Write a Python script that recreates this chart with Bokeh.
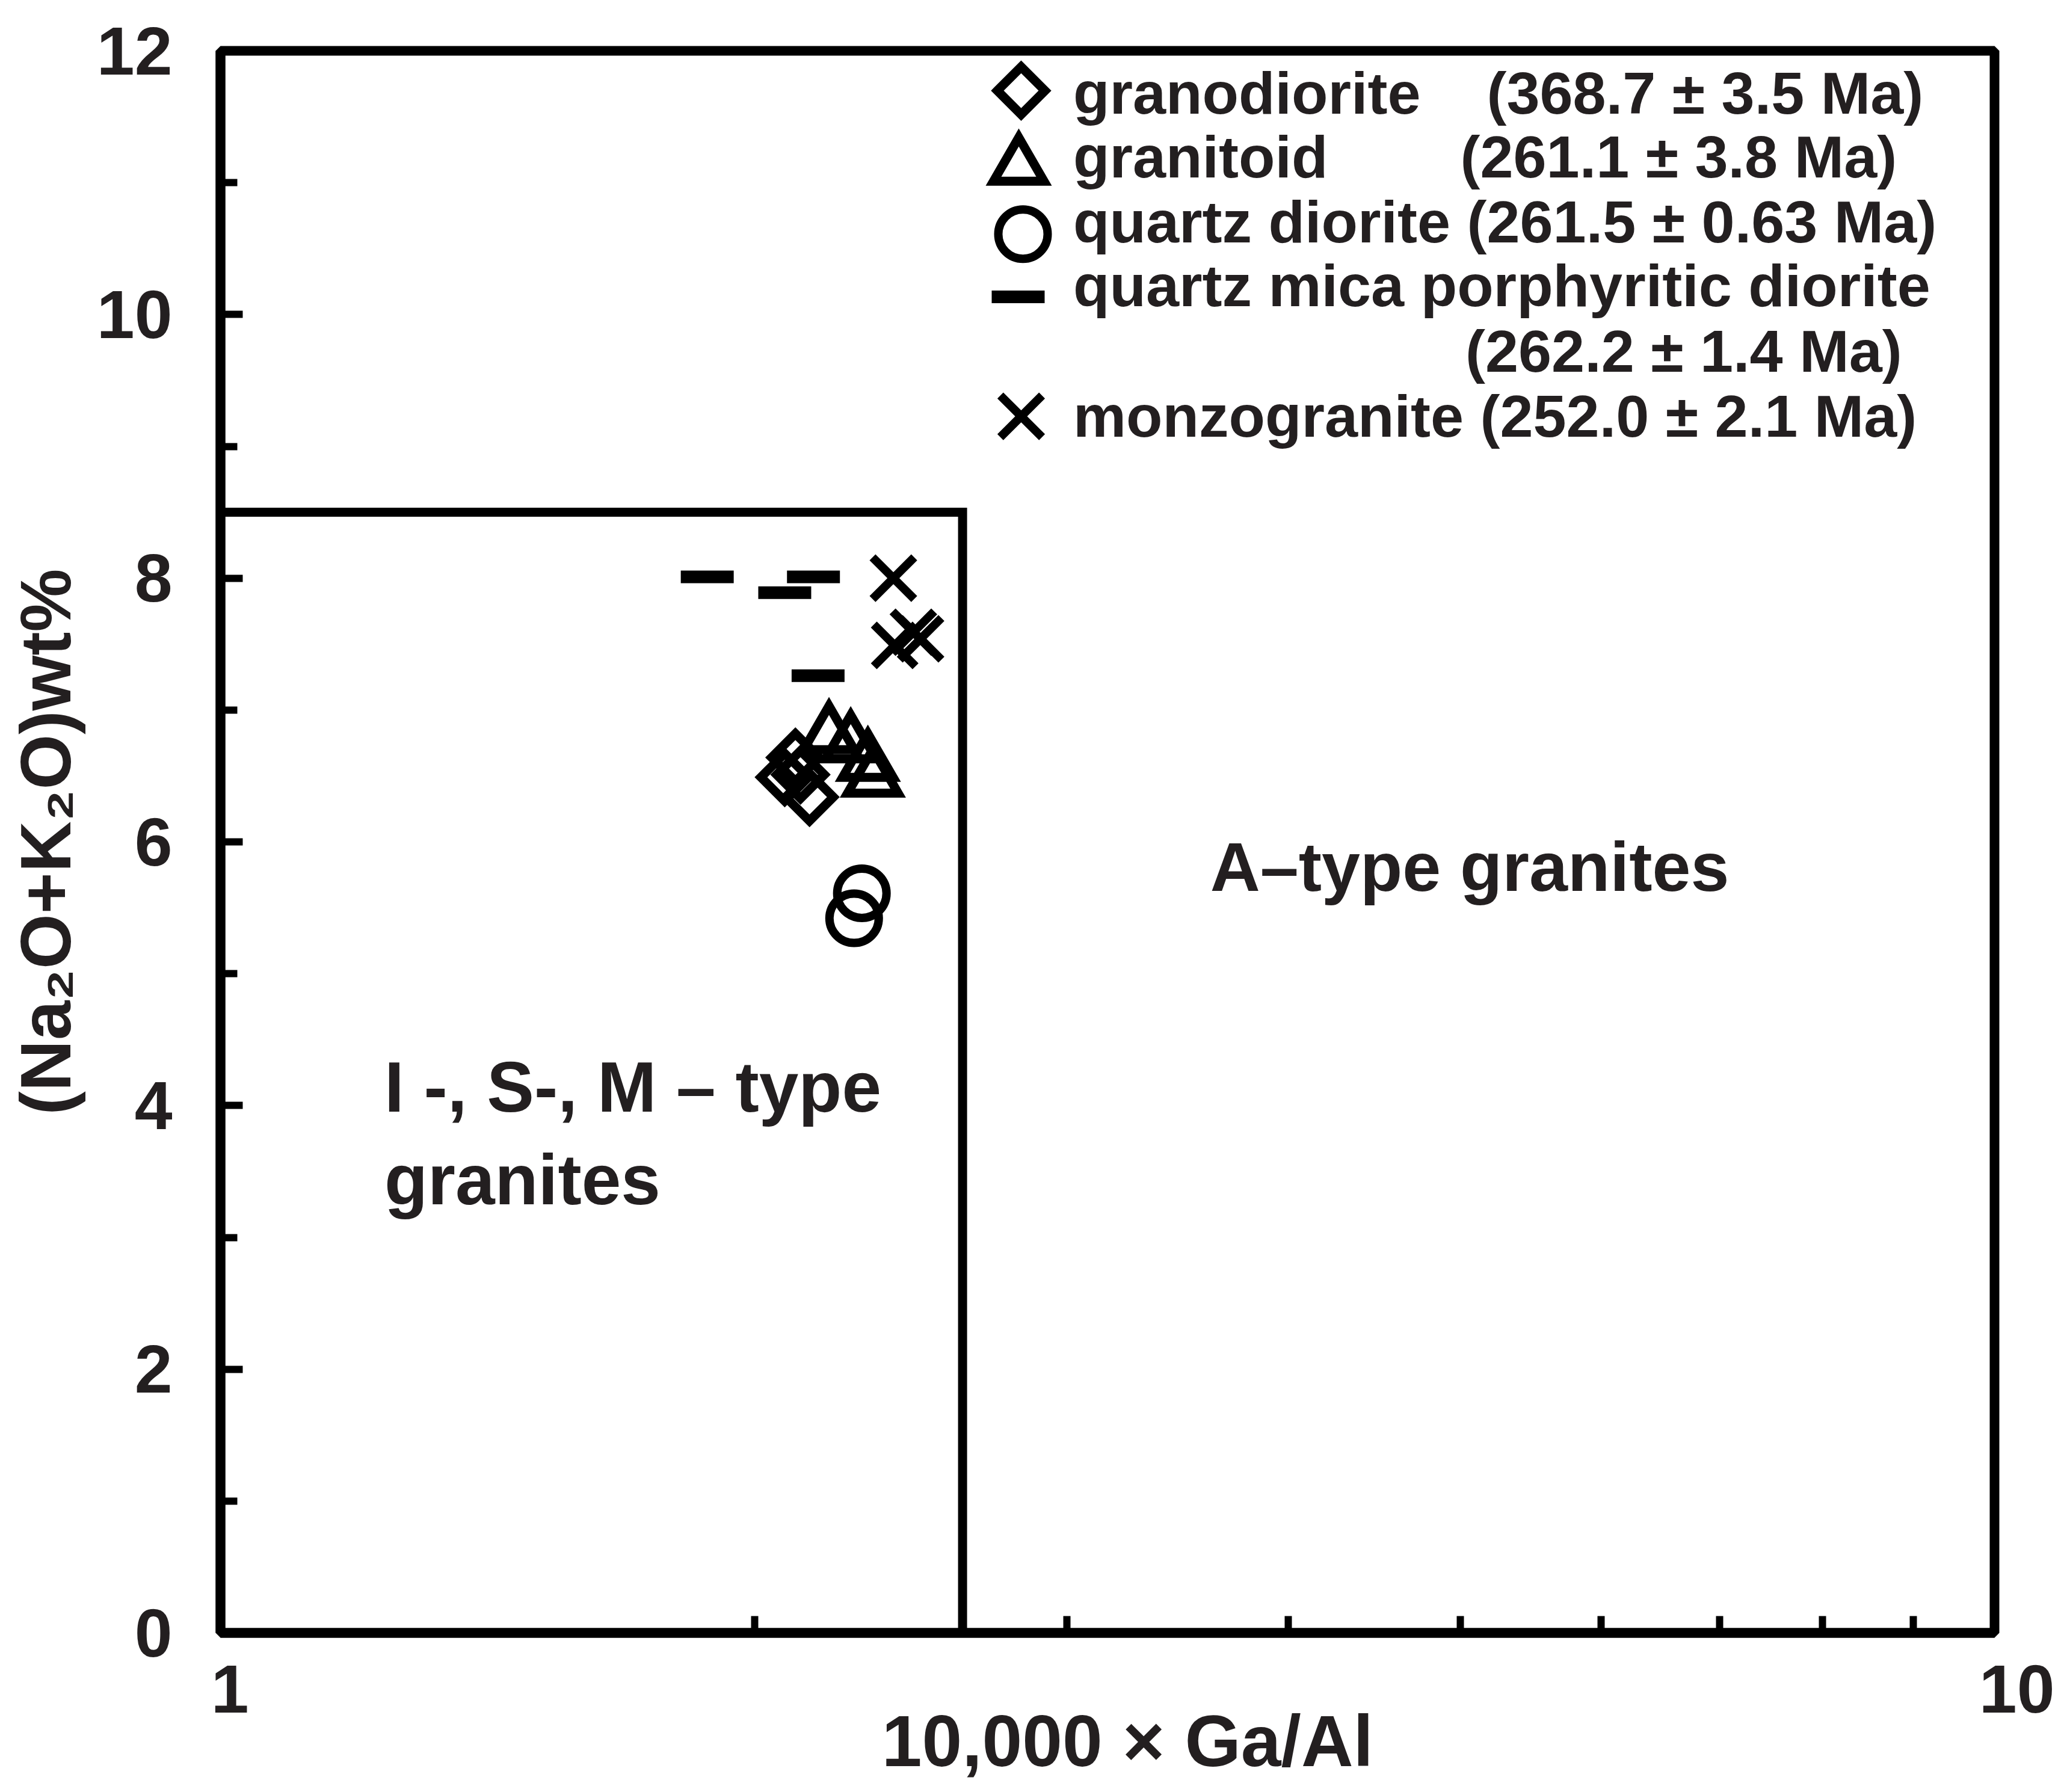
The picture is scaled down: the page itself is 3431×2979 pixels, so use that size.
import numpy as np
from bokeh.plotting import figure
from bokeh.models import Label, Legend, LegendItem, FixedTicker, BasicTickFormatter
from bokeh.embed import file_html
from bokeh.resources import INLINE

# ---------------- data ----------------
granodiorite_x = [2.080, 2.109, 2.148, 2.123]
granodiorite_y = [6.49, 6.64, 6.34, 6.51]
granitoid_x = [2.203, 2.266, 2.317, 2.332]
granitoid_y = [6.81, 6.74, 6.60, 6.48]
quartz_diorite_x = [2.299, 2.276]
quartz_diorite_y = [5.61, 5.42]
qmp_diorite_x = [1.881, 2.159, 2.080, 2.172]
qmp_diorite_y = [8.01, 8.01, 7.89, 7.26]
monzogranite_x = [2.395, 2.458, 2.399, 2.481]
monzogranite_y = [8.00, 7.59, 7.49, 7.54]

# field boundary (10000*Ga/Al and Na2O+K2O)
boundary_x = [1.0, 2.62, 2.62]
boundary_y = [8.5, 8.5, 0.0]

y_ticks = [0, 2, 4, 6, 8, 10, 12]
y_minor = [1, 3, 5, 7, 9, 11]
x_ticks = [1, 10]
x_minor = [2, 3, 4, 5, 6, 7, 8, 9]
x_tick_labels = {1: "1", 10: "10"}

NB = "\u00a0"
legend_labels = [
    "granodiorite" + NB * 4 + "(368.7 ± 3.5 Ma)",
    "granitoid" + NB * 8 + "(261.1 ± 3.8 Ma)",
    "quartz diorite (261.5 ± 0.63 Ma)",
    "quartz mica porphyritic diorite",
    "(262.2 ± 1.4 Ma)",
    "monzogranite (252.0 ± 2.1 Ma)",
]

# ---------------- layout ----------------
W, H = 3415, 2963
FL, FR, FT, FB = 366, 3315, 84, 2707   # frame edges in figure pixels
FONT = "Liberation Sans"
TXT = "#231f20"

# the bottom panel takes exactly its own computed size (ticks + labels + title)
p = figure(width=W, height=H, x_axis_type="log", x_range=(1, 10), y_range=(0, 12),
           output_backend="svg", toolbar_location=None,
           min_border_left=FL, min_border_right=W - FR,
           min_border_top=FT, min_border_bottom=0)
p.grid.visible = False
p.background_fill_color = "white"
p.border_fill_color = "white"
p.outline_line_color = "black"
p.outline_line_width = 16

p.xaxis.ticker = FixedTicker(ticks=x_ticks, minor_ticks=x_minor)
p.xaxis.formatter = BasicTickFormatter()
# small leading spaces nudge the labels right, as in the original
p.xaxis.major_label_overrides = {1: NB + x_tick_labels[1], 10: NB * 3 + x_tick_labels[10]}
p.yaxis.ticker = FixedTicker(ticks=y_ticks, minor_ticks=y_minor)
for ax in (p.xaxis, p.yaxis):
    ax.axis_line_width = 16
    ax.axis_line_color = "black"
    ax.major_tick_line_width = 12
    ax.minor_tick_line_width = 12
    ax.major_tick_in = 37
    ax.major_tick_out = 0
    ax.minor_tick_in = 28
    ax.minor_tick_out = 0
    ax.major_label_text_font = FONT
    ax.major_label_text_font_style = "bold"
    ax.major_label_text_font_size = "113px"
    ax.major_label_text_color = TXT
    ax.axis_label_text_font = FONT
    ax.axis_label_text_font_style = "bold"
    ax.axis_label_text_color = TXT
p.xaxis.major_label_standoff = 30
p.yaxis.major_label_standoff = 80
p.xaxis.axis_label = NB * 2 + "10,000 × Ga/Al"
p.xaxis.axis_label_text_font_size = "120px"
p.xaxis.axis_label_standoff = -47
p.yaxis.axis_label = "(Na₂O+K₂O)wt%"
p.yaxis.axis_label_text_font_size = "118px"
p.yaxis.axis_label_standoff = 16

# boundary
p.line(boundary_x, boundary_y, line_width=15, line_color="black", line_join="miter")

# marker styles
GD = dict(marker="square", angle=np.pi / 4, size=56, line_width=15,
          line_color="black", fill_color=None, line_join="miter")
GT = dict(marker="triangle", size=84, line_width=15, line_color="black",
          fill_color=None, line_join="miter")
QD = dict(marker="circle", size=82, line_width=14, line_color="black", fill_color=None)
QM = dict(marker="dash", size=88, line_width=21, line_color="black")
MZ = dict(marker="x", size=98, line_width=14, line_color="black")

r_gd = p.scatter(granodiorite_x, granodiorite_y, **GD)
r_gt = p.scatter(granitoid_x, granitoid_y, **GT)
r_qd = p.scatter(quartz_diorite_x, quartz_diorite_y, **QD)
r_qm = p.scatter(qmp_diorite_x, qmp_diorite_y, **QM)
r_mz = p.scatter(monzogranite_x, monzogranite_y, **MZ)
r_blank = p.scatter(x=[], y=[], marker="circle", size=1, line_alpha=0, fill_alpha=0)

# ---------------- legend ----------------
REF_OFF = 8          # page margin
TEXT_X = 1792        # left edge of legend texts (page px)

def page_to_data(px, py):
    fx = px - REF_OFF
    fy = py - REF_OFF
    return 10 ** ((fx - FL) / (FR - FL)), 12 * (FB - fy) / (FB - FT)

def text_row(label, text_x, cy):
    leg = Legend(items=[LegendItem(label=label, renderers=[r_blank])],
                 location=(int(text_x - REF_OFF - FL - 1), int(FB - (cy - REF_OFF + 56))),
                 glyph_width=1, glyph_height=112, label_standoff=0,
                 padding=0, spacing=0, margin=0,
                 border_line_color=None, background_fill_alpha=0,
                 label_text_font=FONT, label_text_font_style="bold",
                 label_text_font_size="99px", label_text_color=TXT)
    p.add_layout(leg)

# (style, label, symbol centre x, symbol centre y, text centre y) in page px
rows = [
    (GD, legend_labels[0], 1705, 158, 157),
    (GT, legend_labels[1], 1701, 284, 263),
    (QD, legend_labels[2], 1708, 396, 371),
    (QM, legend_labels[3], 1700, 500, 477),
    (None, legend_labels[4], None, None, 586),
    (MZ, legend_labels[5], 1705, 698, 694),
]
for style, label, sx, sy, ty in rows:
    if style is None:
        text_row(label, 2444, ty)
        continue
    text_row(label, TEXT_X, ty)
    lx, ly = page_to_data(sx, sy)
    p.scatter([lx], [ly], **style)

# ---------------- region labels ----------------
p.add_layout(Label(x=3.613, y=5.81, text="A–type granites", text_font=FONT,
                   text_font_style="bold", text_font_size="115px", text_color=TXT,
                   text_align="left", text_baseline="alphabetic"))
p.add_layout(Label(x=1.237, y=4.14, text="I -, S-, M – type", text_font=FONT,
                   text_font_style="bold", text_font_size="118px", text_color=TXT,
                   text_align="left", text_baseline="alphabetic"))
p.add_layout(Label(x=1.237, y=3.44, text="granites", text_font=FONT,
                   text_font_style="bold", text_font_size="118px", text_color=TXT,
                   text_align="left", text_baseline="alphabetic"))

open("out.html", "w").write(file_html(p, INLINE))
